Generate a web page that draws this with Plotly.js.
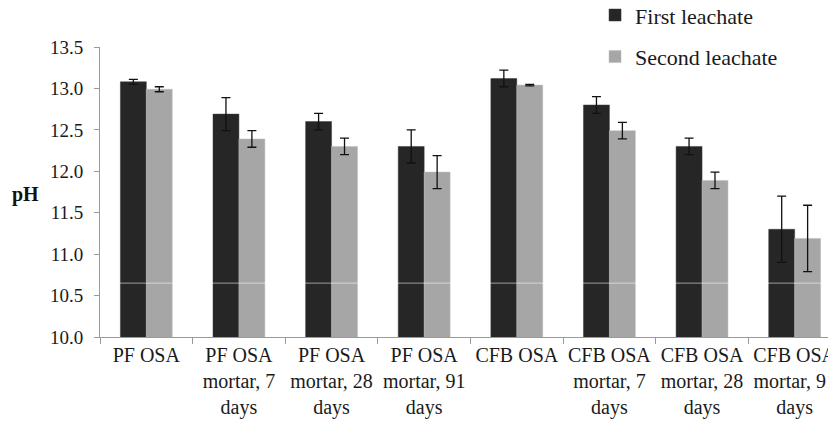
<!DOCTYPE html>
<html>
<head>
<meta charset="utf-8">
<script src="https://cdn.plot.ly/plotly-3.0.1.min.js"></script>
<style>html,body{margin:0;padding:0;background:#fff;}#chart{width:828px;height:421px;}</style>
</head>
<body>
<div id="chart"></div>
<script>
const categories = [
  "PF OSA",
  "PF OSA<br>mortar, 7<br>days",
  "PF OSA<br>mortar, 28<br>days",
  "PF OSA<br>mortar, 91<br>days",
  "CFB OSA",
  "CFB OSA<br>mortar, 7<br>days",
  "CFB OSA<br>mortar, 28<br>days",
  "CFB OSA<br>mortar, 91<br>days"
];
const firstLeachate = [13.08, 12.69, 12.60, 12.30, 13.12, 12.80, 12.30, 11.30];
const firstErr      = [0.03, 0.20, 0.10, 0.20, 0.10, 0.10, 0.10, 0.40];
const secondLeachate = [12.99, 12.39, 12.30, 11.99, 13.04, 12.49, 11.89, 11.19];
const secondErr      = [0.03, 0.10, 0.10, 0.20, 0.01, 0.10, 0.10, 0.40];
const yTickVals = [10.0, 10.5, 11.0, 11.5, 12.0, 12.5, 13.0, 13.5];
const yTickText = ["10.0","10.5","11.0","11.5","12.0","12.5","13.0","13.5"];

const font = "Liberation Serif";
const traces = [
  {
    type: "bar", name: "First leachate", x: categories, y: firstLeachate,
    marker: {color: "#262626", line: {color: "#3a3a3a", width: 0.5}},
    error_y: {type: "data", array: firstErr, visible: true, color: "#111", thickness: 1.3, width: 4.5},
    legendgroup: "a"
  },
  {
    type: "bar", name: "Second leachate", x: categories, y: secondLeachate,
    marker: {color: "#a6a6a6", line: {color: "#bdbdbd", width: 0.5}},
    error_y: {type: "data", array: secondErr, visible: true, color: "#111", thickness: 1.3, width: 4.5},
    legendgroup: "b"
  }
];
const layout = {
  width: 828, height: 421,
  margin: {l: 100, r: 0, t: 47, b: 84, autoexpand: false},
  paper_bgcolor: "#fff", plot_bgcolor: "#fff",
  font: {family: font, size: 19, color: "#1a1a1a"},
  barmode: "group", bargap: 0.44, bargroupgap: 0,
  showlegend: true,
  legend: {x: 0.68, y: 1.182, xanchor: "left", yanchor: "top", tracegroupgap: 10,
           font: {family: font, size: 22, color: "#1a1a1a"}, bgcolor: "rgba(0,0,0,0)"},
  xaxis: {
    type: "category", range: [-0.5, 7.36], tickson: "boundaries",
    ticks: "outside", ticklen: 6, tickcolor: "#9a9a9a",
    showline: true, linecolor: "#9a9a9a", linewidth: 1,
    showgrid: false, tickangle: 0, automargin: false,
    tickfont: {family: font, size: 20, color: "#1a1a1a"}
  },
  yaxis: {
    range: [10, 13.5], tickvals: yTickVals, ticktext: yTickText,
    ticks: "outside", ticklen: 5, tickcolor: "#9a9a9a", ticklabelstandoff: 7,
    showline: true, linecolor: "#9a9a9a", linewidth: 1,
    showgrid: false, zeroline: false, automargin: false,
    tickfont: {family: font, size: 19, color: "#1a1a1a"}
  },
  annotations: [{text: "<b>pH</b>", xref: "paper", yref: "paper", x: -0.103, y: 0.49,
                 xanchor: "center", yanchor: "middle", showarrow: false,
                 font: {family: font, size: 20, color: "#111"}}],
  shapes: [{type: "line", xref: "paper", x0: 0, x1: 1, yref: "y", y0: 10.65, y1: 10.65,
            line: {color: "rgba(255,255,255,0.55)", width: 1}, layer: "above"}]
};
Plotly.newPlot("chart", traces, layout, {displayModeBar: false, staticPlot: true});
</script>
</body>
</html>
